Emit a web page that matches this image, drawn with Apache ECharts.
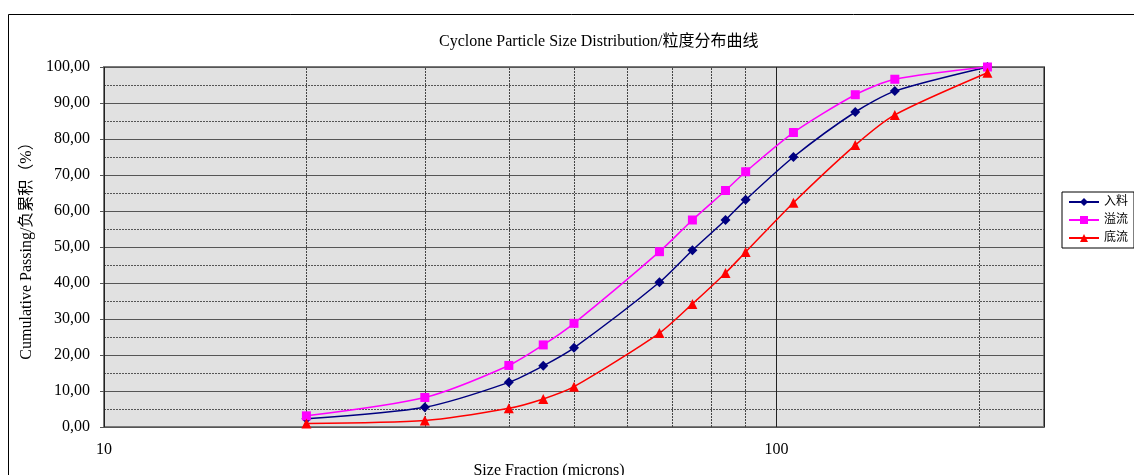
<!DOCTYPE html>
<html>
<head>
<meta charset="utf-8">
<script src="https://cdn.jsdelivr.net/npm/echarts@6/dist/echarts.min.js"></script>
<style>
html,body{margin:0;padding:0;background:#fff;overflow:hidden;}
#chart{width:1134px;height:475px;}
</style>
</head>
<body>
<div id="chart"></div>
<script>
var sizes = [20, 30, 40, 45, 50, 67, 75, 84, 90, 106, 131, 150, 206];
var feed = [2.3, 5.5, 12.4, 17.0, 22.0, 40.2, 49.1, 57.5, 63.1, 75.0, 87.5, 93.3, 100.0];
var overflow = [3.1, 8.2, 17.1, 22.8, 28.8, 48.7, 57.5, 65.7, 70.9, 81.8, 92.3, 96.6, 100.0];
var underflow = [1.0, 1.8, 5.2, 7.8, 11.2, 26.1, 34.2, 42.8, 48.6, 62.3, 78.3, 86.7, 98.4];
var minorGridX = [20, 30, 40, 50, 60, 70, 80, 90, 200];
var xTickLabels = [10, 100];
var seriesNames = ['入料', '溢流', '底流'];

function pairs(xs, ys) { return xs.map(function (x, i) { return [x, ys[i]]; }); }

var serif = '"Liberation Serif", "Times New Roman", "Noto Sans CJK SC", serif';
var chart = echarts.init(document.getElementById('chart'), null, { width: 1134, height: 475 });
chart.setOption({
  backgroundColor: '#fff',
  animation: false,
  graphic: [{
    type: 'rect', silent: true, z: -10,
    shape: { x: 8.5, y: 14.5, width: 1300, height: 600 },
    style: { fill: 'none', stroke: '#000', lineWidth: 1 }
  }],
  title: {
    text: 'Cyclone Particle Size Distribution/粒度分布曲线',
    left: 434, top: 29,
    textStyle: { fontFamily: serif, fontSize: 16, fontWeight: 'normal', color: '#000' }
  },
  legend: {
    orient: 'vertical', left: 1062, top: 192,
    data: seriesNames,
    borderColor: '#000', borderWidth: 1, padding: [4, 6, 4, 6],
    itemWidth: 30, itemHeight: 10, itemGap: 6,
    textStyle: { fontFamily: serif, fontSize: 12, color: '#000' }
  },
  grid: {
    left: 104, top: 67, right: 90, bottom: 48,
    outerBoundsMode: 'none', containLabel: false,
    show: true, backgroundColor: '#e1e1e1', borderColor: '#7a7a7a', borderWidth: 2
  },
  xAxis: {
    type: 'log', logBase: 10, min: 10, max: 250, interval: 1,
    name: 'Size Fraction (microns)', nameLocation: 'middle', nameGap: 32,
    nameTextStyle: { fontFamily: serif, fontSize: 16, color: '#000', padding: [0, 50, 0, 0] },
    axisLine: { show: false },
    axisTick: { show: false },
    axisLabel: {
      fontFamily: serif, fontSize: 16, color: '#000', margin: 15, showMaxLabel: false,
      formatter: function (v) { return xTickLabels.indexOf(Math.round(v)) >= 0 ? String(Math.round(v)) : ''; }
    },
    splitLine: { show: true, lineStyle: { color: '#222', width: 1 } }
  },
  yAxis: {
    type: 'value', min: 0, max: 100, interval: 10,
    name: 'Cumulative Passing/负累积（%）', nameLocation: 'middle', nameGap: 62,
    nameTextStyle: { fontFamily: serif, fontSize: 16, color: '#000' },
    axisLine: { show: false },
    axisTick: { show: true, length: 4, lineStyle: { color: '#555' } },
    axisLabel: {
      fontFamily: serif, fontSize: 16, color: '#000', margin: 14,
      formatter: function (v) { return v.toFixed(2).replace('.', ','); }
    },
    splitLine: { show: true, lineStyle: { color: '#555', width: 1 } },
    minorTick: { show: false, splitNumber: 2 },
    minorSplitLine: { show: true, lineStyle: { color: '#555', width: 1, type: [2, 1] } }
  },
  series: [
    {
      name: 'grid', type: 'line', data: [], silent: true, z: 1,
      markLine: {
        silent: true, symbol: 'none', z: 1, label: { show: false },
        lineStyle: { color: '#444', width: 1, type: [2, 1] },
        data: minorGridX.map(function (v) { return { xAxis: v }; })
      }
    },
    {
      name: seriesNames[0], type: 'line', smooth: 0.25, data: pairs(sizes, feed), z: 5,
      symbol: 'diamond', symbolSize: 10,
      itemStyle: { color: '#000080' }, lineStyle: { color: '#000080', width: 1.5 }
    },
    {
      name: seriesNames[1], type: 'line', smooth: 0.25, data: pairs(sizes, overflow), z: 5,
      symbol: 'rect', symbolSize: 9,
      itemStyle: { color: '#ff00ff' }, lineStyle: { color: '#ff00ff', width: 1.5 }
    },
    {
      name: seriesNames[2], type: 'line', smooth: 0.25, data: pairs(sizes, underflow), z: 5,
      symbol: 'triangle', symbolSize: 10,
      itemStyle: { color: '#ff0000' }, lineStyle: { color: '#ff0000', width: 1.5 }
    }
  ]
});
</script>
</body>
</html>
